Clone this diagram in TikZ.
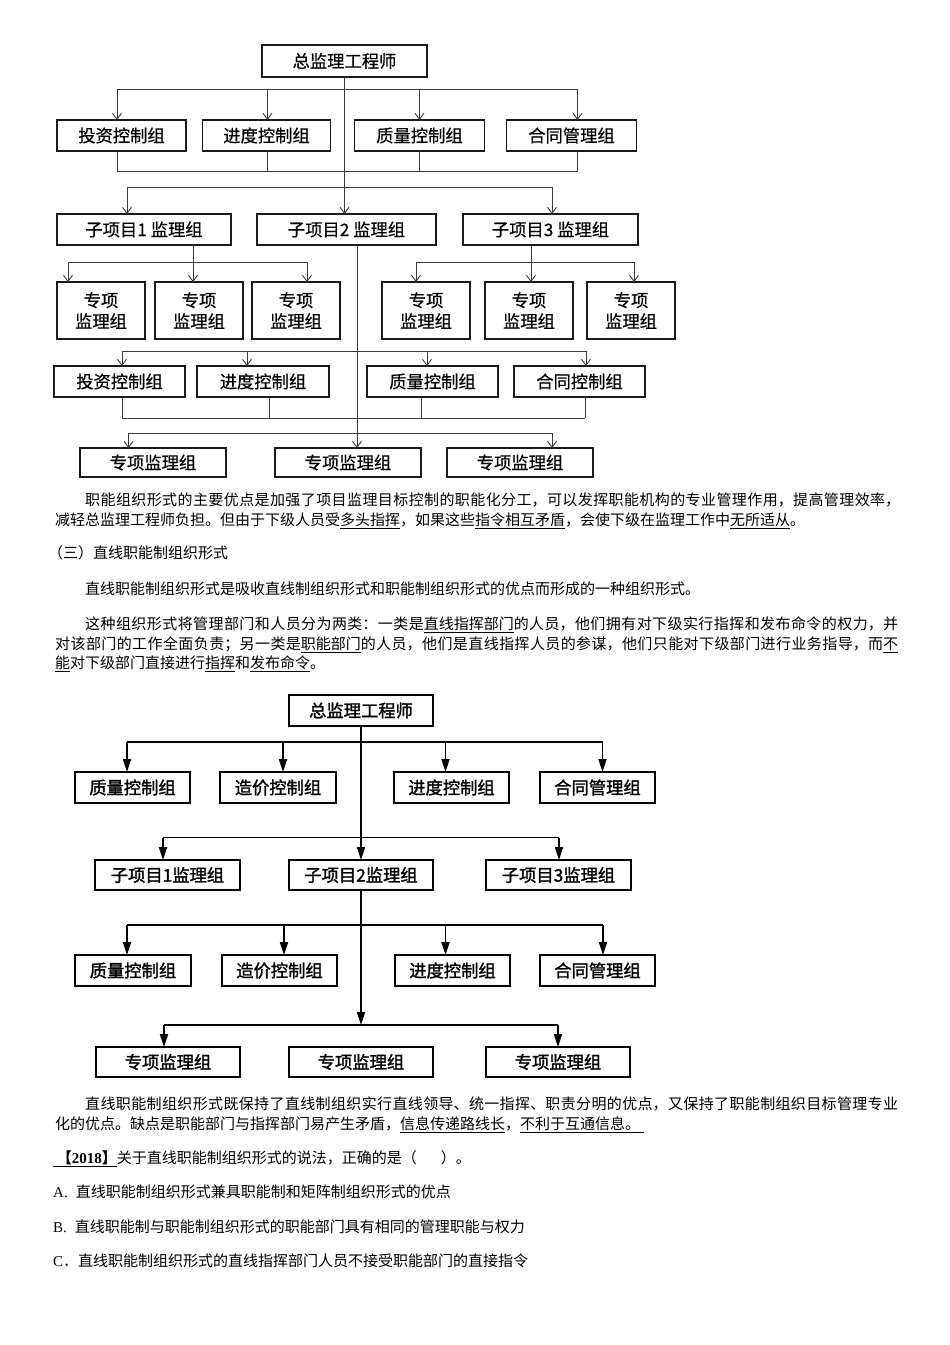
\documentclass[tikz,border=0pt]{standalone}
\usepackage{fontspec}
\setmainfont{Liberation Serif}
\newfontfamily\cjk{Noto Sans CJK SC}
\newfontfamily\cjkmed[FakeBold=1.6]{Noto Sans CJK SC}
\newfontfamily\cjkreg[FakeBold=0.5]{Noto Sans CJK SC}
\usepackage{xcolor}
\definecolor{boxline}{HTML}{1A1A1A}
\definecolor{connline}{HTML}{3A3A3A}
\usepackage{tikz}
\usetikzlibrary{arrows.meta, positioning, calc}
\XeTeXlinebreaklocale "zh"
\XeTeXlinebreakskip=0pt plus 3pt
\newcommand{\jline}[2]{\parbox[b]{#1}{\parindent=0pt\parfillskip=0pt\noindent #2}}

\begin{document}
\begin{tikzpicture}[x=1pt, y=-1pt,
  boxa/.style={draw=boxline, line width=1.7pt, inner sep=0pt, outer sep=0pt, align=center,
               font=\cjkreg\fontsize{17.3}{21}\selectfont},
  boxb/.style={draw=black, line width=2.3pt, inner sep=0pt, outer sep=0pt,
               font=\cjkmed\fontsize{17.3}{20}\selectfont},
  lna/.style={draw=connline, line width=0.9pt},
  arra/.style={lna, -{Straight Barb[length=6pt,width=9pt]}},
  lnb/.style={draw=black, line width=1.7pt},
  arrb/.style={lnb, -{Triangle[length=13pt,width=8pt]}},
  txt/.style={anchor=base west, inner sep=0pt, font=\fontsize{15}{18}\selectfont}]

  \fill[white] (0,0) rectangle (950,1345);
  \useasboundingbox (0,0) rectangle (950,1345);

  % first chart
  \node[boxa, minimum width=165pt, minimum height=32pt] (zj) at (344.5,61) {总监理工程师};

  \node[boxa, minimum width=129pt, minimum height=31pt] (kz1) at (121.5,135.5) {投资控制组};
  \node[boxa, minimum width=128pt, minimum height=31pt, right=16.5pt of kz1] (kz2) {进度控制组};
  \node[boxa, minimum width=130pt, minimum height=31pt, right=24pt of kz2] (kz3) {质量控制组};
  \node[boxa, minimum width=130pt, minimum height=31pt, right=22pt of kz3] (kz4) {合同管理组};

  \node[boxa, minimum width=174pt, minimum height=31pt] (xm1) at (144,229.5) {子项目1 监理组};
  \node[boxa, minimum width=179pt, minimum height=31pt, right=26pt of xm1] (xm2) {子项目2 监理组};
  \node[boxa, minimum width=175pt, minimum height=31pt, right=27pt of xm2] (xm3) {子项目3 监理组};

  \node[boxa, minimum width=88pt, minimum height=57pt] (zx1) at (101,310.5) {专项\\监理组};
  \node[boxa, minimum width=88pt, minimum height=57pt, right=10pt of zx1] (zx2) {专项\\监理组};
  \node[boxa, minimum width=88pt, minimum height=57pt, right=9pt of zx2] (zx3) {专项\\监理组};
  \node[boxa, minimum width=88pt, minimum height=57pt] (zx4) at (426,310.5) {专项\\监理组};
  \node[boxa, minimum width=88pt, minimum height=57pt, right=15pt of zx4] (zx5) {专项\\监理组};
  \node[boxa, minimum width=88pt, minimum height=57pt, right=14pt of zx5] (zx6) {专项\\监理组};

  \node[boxa, minimum width=131pt, minimum height=31pt] (kz5) at (119.5,381.5) {投资控制组};
  \node[boxa, minimum width=132pt, minimum height=31pt, right=12pt of kz5] (kz6) {进度控制组};
  \node[boxa, minimum width=131pt, minimum height=31pt] (kz7) at (432.5,381.5) {质量控制组};
  \node[boxa, minimum width=131pt, minimum height=31pt, right=16pt of kz7] (kz8) {合同控制组};

  \node[boxa, minimum width=146pt, minimum height=29pt] (jl1) at (153,462.5) {专项监理组};
  \node[boxa, minimum width=146pt, minimum height=29pt, right=49pt of jl1] (jl2) {专项监理组};
  \node[boxa, minimum width=146pt, minimum height=29pt, right=26pt of jl2] (jl3) {专项监理组};

  \coordinate (b1) at (0,89);
  \coordinate (b2) at (0,171);
  \coordinate (b3) at (0,187);
  \coordinate (b4) at (0,262);
  \coordinate (b5) at (0,351);
  \coordinate (b6) at (0,418);
  \coordinate (b7) at (0,433);

  \draw[arra] (zj.south) -- (zj.south |- xm2.north);
  \draw[lna] ([xshift=-4.5]kz1.north |- b1) -- ([xshift=6]kz4.north |- b1);
  \draw[lna] ([xshift=-4.5]kz1.south |- b2) -- ([xshift=6]kz4.south |- b2);
  \foreach \n/\dx in {kz1/-4.5, kz2/1, kz3/0, kz4/6} {
    \draw[arra] ([xshift=\dx]\n.north |- b1) -- ([xshift=\dx]\n.north);
    \draw[lna] ([xshift=\dx]\n.south) -- ([xshift=\dx]\n.south |- b2);
  }

  \draw[lna] ([xshift=-17]xm1.north |- b3) -- ([xshift=1.5]xm3.north |- b3);
  \foreach \n/\dx in {xm1/-17, xm3/1.5}
    \draw[arra] ([xshift=\dx]\n.north |- b3) -- ([xshift=\dx]\n.north);

  \draw[lna] ([xshift=49]xm1.south) -- ([xshift=49]xm1.south |- b4);
  \draw[lna] ([xshift=-33]zx1.north |- b4) -- ([xshift=11]zx3.north |- b4);
  \draw[lna] ([xshift=-19.5]xm3.south) -- ([xshift=-19.5]xm3.south |- b4);
  \draw[lna] ([xshift=-10]zx4.north |- b4) -- ([xshift=3]zx6.north |- b4);
  \foreach \n/\dx in {zx1/-33, zx2/-6, zx3/11, zx4/-10, zx5/2, zx6/3}
    \draw[arra] ([xshift=\dx]\n.north |- b4) -- ([xshift=\dx]\n.north);

  \draw[arra] ([xshift=10.5]xm2.south) -- ([xshift=10.5]xm2.south |- jl2.north);
  \draw[lna] ([xshift=2.5]kz5.north |- b5) -- ([xshift=6.5]kz8.north |- b5);
  \foreach \n/\dx in {kz5/2.5, kz6/-16, kz7/-5.5, kz8/6.5}
    \draw[arra] ([xshift=\dx]\n.north |- b5) -- ([xshift=\dx]\n.north);
  \draw[lna] ([xshift=2.5]kz5.south |- b6) -- ([xshift=5.5]kz8.south |- b6);
  \foreach \n/\dx in {kz5/2.5, kz6/6, kz7/-11.5, kz8/5.5}
    \draw[lna] ([xshift=\dx]\n.south) -- ([xshift=\dx]\n.south |- b6);
  \draw[lna] ([xshift=-24.5]jl1.north |- b7) -- ([xshift=32]jl3.north |- b7);
  \foreach \n/\dx in {jl1/-24.5, jl3/32}
    \draw[arra] ([xshift=\dx]\n.north |- b7) -- ([xshift=\dx]\n.north);

  % text between the charts
  \node[txt] (p1a) at (85,505.5) {\jline{815pt}{\cjk 职能组织形式的主要优点是加强了项目监理目标控制的职能化分工，可以发挥职能机构的专业管理作用，提高管理效率，}};
  \node[txt] (p1b) at (55,525.5) {\cjk 减轻总监理工程师负担。但由于下级人员受\underline{多头指挥}，如果这些\underline{指令相互矛盾}，会使下级在监理工作中\underline{无所适从}。};
  \node[txt] (h3) at (48,558.5) {\cjk （三）直线职能制组织形式};
  \node[txt] (p2) at (85,594.5) {\cjk 直线职能制组织形式是吸收直线制组织形式和职能制组织形式的优点而形成的一种组织形式。};
  \node[txt] (p3a) at (85,629.5) {\jline{813pt}{\cjk 这种组织形式将管理部门和人员分为两类：一类是\underline{直线指挥部门}的人员，他们拥有对下级实行指挥和发布命令的权力，并}};
  \node[txt] (p3b) at (55,649.5) {\jline{843pt}{\cjk 对该部门的工作全面负责；另一类是\underline{职能部门}的人员，他们是直线指挥人员的参谋，他们只能对下级部门进行业务指导，而\underline{不}}};
  \node[txt] (p3c) at (55,668.5) {\cjk \underline{能}对下级部门直接进行\underline{指挥}和\underline{发布命令}。};

  % second chart
  \node[boxb, minimum width=144pt, minimum height=31pt] (zjB) at (361,710.5) {总监理工程师};

  \node[boxb, minimum width=115pt, minimum height=31pt] (gB1) at (132.5,787.5) {质量控制组};
  \node[boxb, minimum width=116pt, minimum height=31pt] (gB2) at (278,787.5) {造价控制组};
  \node[boxb, minimum width=115pt, minimum height=31pt] (gB3) at (451.5,787.5) {进度控制组};
  \node[boxb, minimum width=115pt, minimum height=31pt] (gB4) at (597.5,787.5) {合同管理组};

  \node[boxb, minimum width=145pt, minimum height=30pt] (xmB1) at (167.5,875) {子项目1监理组};
  \node[boxb, minimum width=144pt, minimum height=30pt] (xmB2) at (361,875) {子项目2监理组};
  \node[boxb, minimum width=145pt, minimum height=30pt] (xmB3) at (558.5,875) {子项目3监理组};

  \node[boxb, minimum width=116pt, minimum height=31pt] (gB5) at (133,970.5) {质量控制组};
  \node[boxb, minimum width=115pt, minimum height=31pt] (gB6) at (279.5,970.5) {造价控制组};
  \node[boxb, minimum width=115pt, minimum height=31pt] (gB7) at (452.5,970.5) {进度控制组};
  \node[boxb, minimum width=115pt, minimum height=31pt] (gB8) at (597.5,970.5) {合同管理组};

  \node[boxb, minimum width=144pt, minimum height=30pt] (jlB1) at (168,1062) {专项监理组};
  \node[boxb, minimum width=144pt, minimum height=30pt] (jlB2) at (361,1062) {专项监理组};
  \node[boxb, minimum width=144pt, minimum height=30pt] (jlB3) at (558,1062) {专项监理组};

  \coordinate (B1) at (0,742);
  \coordinate (B2) at (0,837.5);
  \coordinate (B3) at (0,925);
  \coordinate (B4) at (0,1025);

  \draw[arrb] (zjB.south) -- (zjB.south |- xmB2.north);
  \draw[lnb] ([xshift=-5.5]gB1.north |- B1) -- ([xshift=5]gB4.north |- B1);
  \foreach \n/\dx in {gB1/-5.5, gB2/5, gB3/-6, gB4/5}
    \draw[arrb] ([xshift=\dx]\n.north |- B1) -- ([xshift=\dx]\n.north);
  \draw[lnb] ([xshift=-4.5]xmB1.north |- B2) -- ([xshift=0.5]xmB3.north |- B2);
  \foreach \n/\dx in {xmB1/-4.5, xmB3/0.5}
    \draw[arrb] ([xshift=\dx]\n.north |- B2) -- ([xshift=\dx]\n.north);

  \coordinate (mB) at (xmB2.south |- B4);
  \draw[arrb] (xmB2.south) -- (mB);
  \draw[lnb] ([xshift=-6]gB5.north |- B3) -- ([xshift=5.5]gB8.north |- B3);
  \foreach \n/\dx in {gB5/-6, gB6/4.5, gB7/-7, gB8/5.5}
    \draw[arrb] ([xshift=\dx]\n.north |- B3) -- ([xshift=\dx]\n.north);
  \draw[lnb] ([xshift=-4]jlB1.north |- B4) -- (jlB3.north |- B4);
  \foreach \n/\dx in {jlB1/-4, jlB3/0}
    \draw[arrb] ([xshift=\dx]\n.north |- B4) -- ([xshift=\dx]\n.north);

  % text below
  \node[txt] (p4a) at (85,1109.5) {\jline{813pt}{\cjk 直线职能制组织形式既保持了直线制组织实行直线领导、统一指挥、职责分明的优点，又保持了职能制组织目标管理专业}};
  \node[txt] (p4b) at (55,1129.5) {\cjk 化的优点。缺点是职能部门与指挥部门易产生矛盾，\underline{信息传递路线长}，\underline{不利于互通信息。\ }};
  \node[txt] (q) at (53,1163.5) {\underline{\ {\cjk\bfseries 【}\textbf{2018}{\cjk\bfseries 】}}{\cjk 关于直线职能制组织形式的说法，正确的是（\hspace{24pt}）。}};
  \node[txt] (qa) at (53,1197.5) {A.\hspace{8pt}{\cjk 直线职能制组织形式兼具职能制和矩阵制组织形式的优点}};
  \node[txt] (qb) at (53,1232.5) {B.\hspace{8pt}{\cjk 直线职能制与职能制组织形式的职能部门具有相同的管理职能与权力}};
  \node[txt] (qc) at (53,1266.5) {C{\cjk ．}{\cjk 直线职能制组织形式的直线指挥部门人员不接受职能部门的直接指令}};
\end{tikzpicture}
\end{document}
